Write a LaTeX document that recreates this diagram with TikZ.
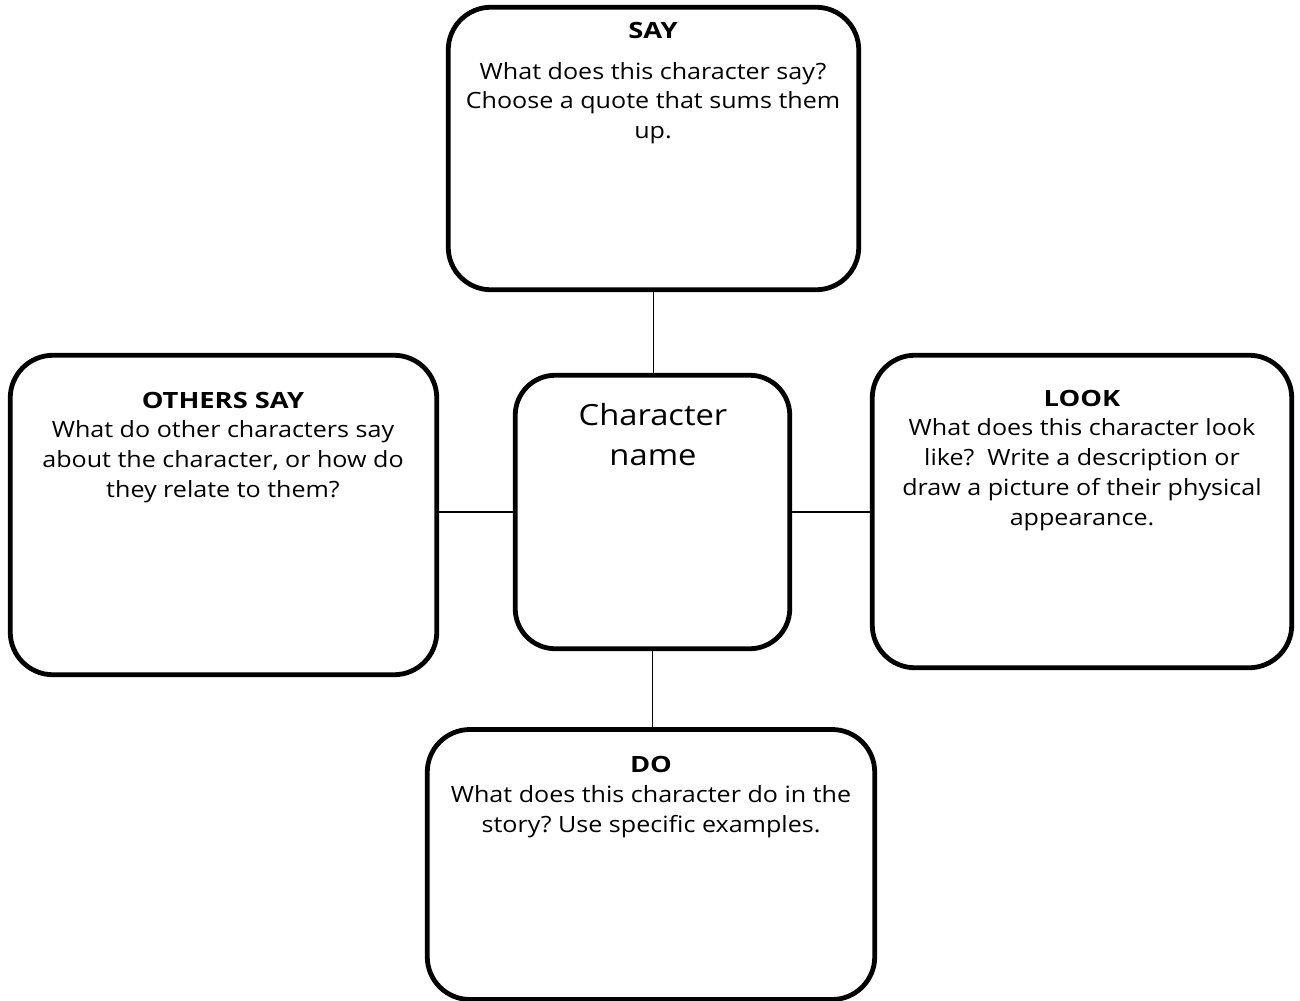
\documentclass[tikz,border=0pt]{standalone}
\usepackage{fontspec}
\setmainfont{Open Sans}[FakeStretch=1.12, BoldFeatures={FakeStretch=1.22}]
\frenchspacing
\begin{document}
\begin{tikzpicture}[x=0.75pt,y=-0.75pt,
  box/.style={draw=black, line width=3.6pt, rounded corners=32pt, inner sep=0pt},
  conn/.style={draw=black, line width=1.1pt},
  txt/.style={align=center, font=\fontsize{16.8pt}{22.4pt}\selectfont, inner sep=0pt, text=black},
  cname/.style={align=center, font=\fontsize{21.9pt}{30pt}\selectfont, inner sep=0pt, text=black}]
\useasboundingbox (0,0) rectangle (1300,1000);
\fill[white] (0,0) rectangle (1300,1000);

\node[box, minimum width=307.9pt, minimum height=211.9pt] (say) at (653.5,148.5) {};
\node[box, minimum width=319.9pt, minimum height=239.6pt] (others) at (223.5,515) {};
\node[box, minimum width=205.9pt, minimum height=205.1pt, rounded corners=30pt] (center) at (652.5,512) {};
\node[box, minimum width=314.6pt, minimum height=234.4pt] (look) at (1082,511.5) {};
\node[box, minimum width=335.6pt, minimum height=202.5pt] (do) at (651,864.5) {};

\draw[conn] (say.south) -- (say.south |- center.north);
\draw[conn] (center.west) -- (center.west -| others.east);
\draw[conn] (center.east) -- (center.east -| look.west);
\draw[conn] (center.south) -- (center.south |- do.north);

\node[txt, anchor=north] (saytxt) at (653,22) {\textbf{SAY}\\[8pt] What does this character say?\\ Choose a quote that sums them\\ up.};
\node[txt, anchor=north] (otherstxt) at (223,391.5) {\textbf{OTHERS SAY}\\ What do other characters say\\ about the character, or how do\\ they relate to them?};
\node[cname, anchor=north] (nametxt) at (653,403) {Character\\ name};
\node[txt, anchor=north] (looktxt) at (1082,389.5) {\textbf{LOOK}\\ What does this character look\\ like?~ Write a description or\\ draw a picture of their physical\\ appearance.};
\node[txt, anchor=north] (dotxt) at (651,756) {\textbf{DO}\\ What does this character do in the\\ story? Use specific examples.};
\end{tikzpicture}
\end{document}
